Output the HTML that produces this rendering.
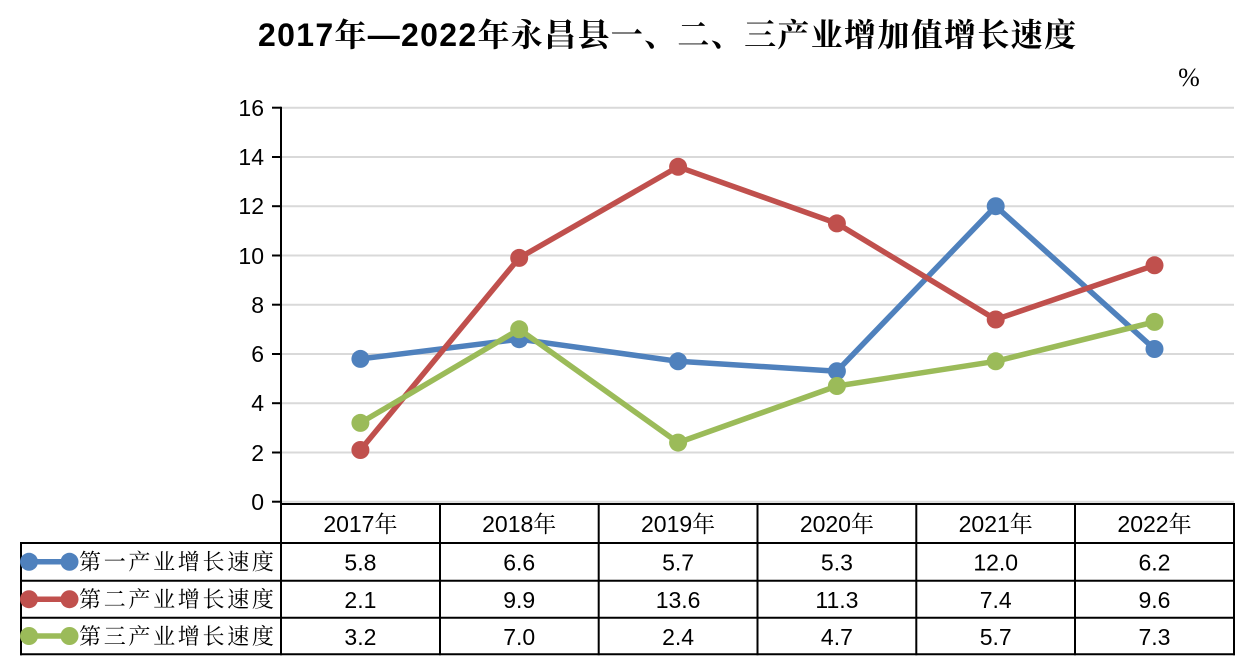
<!DOCTYPE html>
<html>
<head>
<meta charset="utf-8">
<style>
html,body{margin:0;padding:0;background:#fff;}
svg{display:block;}
.ax{font-family:"Liberation Sans","Noto Sans CJK SC",sans-serif;font-size:23px;fill:#000;}
.tb{font-family:"Liberation Sans","Noto Serif CJK SC",sans-serif;font-size:23px;fill:#000;}
.lg{font-family:"Noto Serif CJK SC","Liberation Serif",serif;font-size:22px;fill:#000;letter-spacing:2.7px;}
</style>
</head>
<body>
<svg width="1237" height="668" viewBox="0 0 1237 668" xmlns="http://www.w3.org/2000/svg">
<rect width="1237" height="668" fill="#fff"/>
<!-- title -->
<text x="258" y="46" textLength="818" lengthAdjust="spacing" style="font-size:32px;font-weight:bold;font-family:'Liberation Sans','Noto Serif CJK SC',sans-serif;"><tspan font-family="Liberation Sans, sans-serif">2017</tspan><tspan font-family="Noto Serif CJK SC, serif">年</tspan><tspan font-family="Liberation Sans, sans-serif">—2022</tspan><tspan font-family="Noto Serif CJK SC, serif">年永昌县一、二、三产业增加值增长速度</tspan></text>
<text x="1189" y="86" text-anchor="middle" style="font-family:'Liberation Serif',serif;font-size:26px;">%</text>

<!-- gridlines -->
<g stroke="#d9d9d9" stroke-width="2">
<line x1="281" y1="107.7" x2="1234" y2="107.7"/>
<line x1="281" y1="157" x2="1234" y2="157"/>
<line x1="281" y1="206.2" x2="1234" y2="206.2"/>
<line x1="281" y1="255.5" x2="1234" y2="255.5"/>
<line x1="281" y1="304.7" x2="1234" y2="304.7"/>
<line x1="281" y1="354" x2="1234" y2="354"/>
<line x1="281" y1="403.2" x2="1234" y2="403.2"/>
<line x1="281" y1="452.5" x2="1234" y2="452.5"/>
<line x1="281" y1="501.7" x2="1234" y2="501.7"/>
</g>
<!-- y axis -->
<g stroke="#000" stroke-width="2">
<line x1="281" y1="106.7" x2="281" y2="504"/>
<line x1="272" y1="107.7" x2="281" y2="107.7"/>
<line x1="272" y1="157" x2="281" y2="157"/>
<line x1="272" y1="206.2" x2="281" y2="206.2"/>
<line x1="272" y1="255.5" x2="281" y2="255.5"/>
<line x1="272" y1="304.7" x2="281" y2="304.7"/>
<line x1="272" y1="354" x2="281" y2="354"/>
<line x1="272" y1="403.2" x2="281" y2="403.2"/>
<line x1="272" y1="452.5" x2="281" y2="452.5"/>
<line x1="272" y1="501.7" x2="281" y2="501.7"/>
</g>
<g class="ax" text-anchor="end">
<text x="264" y="116">16</text>
<text x="264" y="165">14</text>
<text x="264" y="214">12</text>
<text x="264" y="264">10</text>
<text x="264" y="313">8</text>
<text x="264" y="362">6</text>
<text x="264" y="411">4</text>
<text x="264" y="461">2</text>
<text x="264" y="510">0</text>
</g>

<!-- series -->
<g fill="#4f81bd">
<polyline fill="none" stroke="#4f81bd" stroke-width="5.5" stroke-linejoin="round" points="360.4,358.9 519.2,339.2 678.1,361.3 836.9,371.2 995.7,206.2 1154.5,349.0"/>
<circle cx="360.4" cy="358.9" r="9"/>
<circle cx="519.2" cy="339.2" r="9"/>
<circle cx="678.1" cy="361.3" r="9"/>
<circle cx="836.9" cy="371.2" r="9"/>
<circle cx="995.7" cy="206.2" r="9"/>
<circle cx="1154.5" cy="349.0" r="9"/>
</g>
<g fill="#c0504d">
<polyline fill="none" stroke="#c0504d" stroke-width="5.5" stroke-linejoin="round" points="360.4,450.0 519.2,257.9 678.1,166.8 836.9,223.4 995.7,319.5 1154.5,265.3"/>
<circle cx="360.4" cy="450.0" r="9"/>
<circle cx="519.2" cy="257.9" r="9"/>
<circle cx="678.1" cy="166.8" r="9"/>
<circle cx="836.9" cy="223.4" r="9"/>
<circle cx="995.7" cy="319.5" r="9"/>
<circle cx="1154.5" cy="265.3" r="9"/>
</g>
<g fill="#9bbb59">
<polyline fill="none" stroke="#9bbb59" stroke-width="5.5" stroke-linejoin="round" points="360.4,422.9 519.2,329.3 678.1,442.6 836.9,386.0 995.7,361.3 1154.5,321.9"/>
<circle cx="360.4" cy="422.9" r="9"/>
<circle cx="519.2" cy="329.3" r="9"/>
<circle cx="678.1" cy="442.6" r="9"/>
<circle cx="836.9" cy="386.0" r="9"/>
<circle cx="995.7" cy="361.3" r="9"/>
<circle cx="1154.5" cy="321.9" r="9"/>
</g>

<!-- table -->
<g stroke="#000" stroke-width="2" fill="none">
<line x1="280" y1="504" x2="1235" y2="504"/>
<line x1="20" y1="543" x2="1235" y2="543"/>
<line x1="20" y1="580.7" x2="1235" y2="580.7"/>
<line x1="20" y1="617.7" x2="1235" y2="617.7"/>
<line x1="20" y1="654.3" x2="1235" y2="654.3"/>
<line x1="21" y1="542" x2="21" y2="655.3"/>
<line x1="281" y1="503" x2="281" y2="655.3"/>
<line x1="440" y1="503" x2="440" y2="655.3"/>
<line x1="598.7" y1="503" x2="598.7" y2="655.3"/>
<line x1="757.5" y1="503" x2="757.5" y2="655.3"/>
<line x1="916.3" y1="503" x2="916.3" y2="655.3"/>
<line x1="1075" y1="503" x2="1075" y2="655.3"/>
<line x1="1234" y1="503" x2="1234" y2="655.3"/>
</g>
<g class="tb" text-anchor="middle">
<text x="360.4" y="532">2017年</text>
<text x="519.2" y="532">2018年</text>
<text x="678.1" y="532">2019年</text>
<text x="836.9" y="532">2020年</text>
<text x="995.7" y="532">2021年</text>
<text x="1154.5" y="532">2022年</text>

<text x="360.4" y="570.7">5.8</text>
<text x="519.2" y="570.7">6.6</text>
<text x="678.1" y="570.7">5.7</text>
<text x="836.9" y="570.7">5.3</text>
<text x="995.7" y="570.7">12.0</text>
<text x="1154.5" y="570.7">6.2</text>

<text x="360.4" y="608">2.1</text>
<text x="519.2" y="608">9.9</text>
<text x="678.1" y="608">13.6</text>
<text x="836.9" y="608">11.3</text>
<text x="995.7" y="608">7.4</text>
<text x="1154.5" y="608">9.6</text>

<text x="360.4" y="645.2">3.2</text>
<text x="519.2" y="645.2">7.0</text>
<text x="678.1" y="645.2">2.4</text>
<text x="836.9" y="645.2">4.7</text>
<text x="995.7" y="645.2">5.7</text>
<text x="1154.5" y="645.2">7.3</text>
</g>

<!-- legend keys -->
<g>
<line x1="29" y1="561.8" x2="69.5" y2="561.8" stroke="#4f81bd" stroke-width="5.5"/>
<circle cx="29" cy="561.8" r="9" fill="#4f81bd"/>
<circle cx="69.5" cy="561.8" r="9" fill="#4f81bd"/>
<line x1="29" y1="599.2" x2="69.5" y2="599.2" stroke="#c0504d" stroke-width="5.5"/>
<circle cx="29" cy="599.2" r="9" fill="#c0504d"/>
<circle cx="69.5" cy="599.2" r="9" fill="#c0504d"/>
<line x1="29" y1="636" x2="69.5" y2="636" stroke="#9bbb59" stroke-width="5.5"/>
<circle cx="29" cy="636" r="9" fill="#9bbb59"/>
<circle cx="69.5" cy="636" r="9" fill="#9bbb59"/>
</g>
<g class="lg">
<text x="79" y="569.5">第一产业增长速度</text>
<text x="79" y="606.8">第二产业增长速度</text>
<text x="79" y="643.8">第三产业增长速度</text>
</g>
</svg>
</body>
</html>
